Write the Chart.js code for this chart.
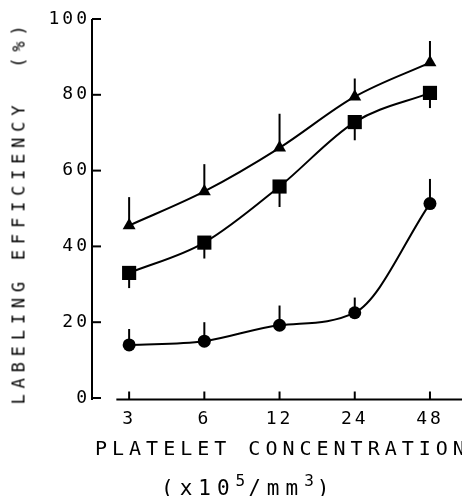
<!DOCTYPE html>
<html>
<head>
<meta charset="utf-8">
<script src="https://cdn.jsdelivr.net/npm/chart.js@4"></script>
<style>
  html, body { margin: 0; padding: 0; background: #fff; }
  #wrap { position: relative; width: 462px; height: 496px; }
  .lbl { position: absolute; font-family: 'DejaVu Sans Mono', monospace; color: #000; white-space: pre; line-height: 1; }
  #xTitle { left: 95px; top: 438px; font-size: 20px; letter-spacing: 5px; }
  #xUnit { left: 161px; top: 473px; font-size: 21px; letter-spacing: 6px; }
  #xUnit sup { font-size: 16px; vertical-align: 9px; letter-spacing: 3px; }
  #yTitle { left: 19px; top: 212px; font-size: 17px; letter-spacing: 5.8px; transform: translate(-50%, -50%) rotate(-90deg); }
</style>
</head>
<body>
<div id="wrap">
  <canvas id="chart" width="462" height="496"></canvas>
  <div class="lbl" id="yTitle">LABELING EFFICIENCY  (%)</div>
  <div class="lbl" id="xTitle">PLATELET CONCENTRATION</div>
  <div class="lbl" id="xUnit">(x10<sup>5</sup>/mm<sup>3</sup>)</div>
</div>
<script>
// ── data ──
const concLabels = ["3", "6", "12", "24", "48"];
const yTicks = [0, 20, 40, 60, 80, 100];

const triangle = [45.5, 54.5, 66, 79.5, 88.5];
const triangleErr = [7.5, 7.2, 9, 4.8, 5.7];     // drawn upward

const square = [33, 41, 55.8, 72.8, 80.5];
const squareErr = [4, 4.2, 5.4, 4.8, 4];          // drawn downward

const circle = [14, 15, 19.2, 22.5, 51.3];
const circleErr = [4.2, 5, 5.2, 4, 6.5];          // drawn upward

const toPoints = arr => arr.map((v, i) => ({ x: i, y: v }));

// ── error bars + hand-drawn axes (inward ticks, detached x axis) ──
const plotDecor = {
  id: "plotDecor",
  beforeDraw(chart) {
    chart.ctx.letterSpacing = "3px";
  },
  afterDatasetsDraw(chart) {
    const { ctx, scales: { x, y } } = chart;
    ctx.save();
    ctx.strokeStyle = "#000";
    ctx.lineWidth = 2;

    chart.data.datasets.forEach(ds => {
      ds.data.forEach((p, i) => {
        const px = x.getPixelForValue(p.x);
        ctx.beginPath();
        ctx.moveTo(px, y.getPixelForValue(p.y));
        ctx.lineTo(px, y.getPixelForValue(p.y + ds.errDir * ds.err[i]));
        ctx.stroke();
      });
    });

    // y axis
    const ax = chart.chartArea.left + 1;
    ctx.beginPath();
    ctx.moveTo(ax, y.getPixelForValue(100));
    ctx.lineTo(ax, y.getPixelForValue(0) + 2);
    ctx.stroke();
    yTicks.forEach(t => {
      const py = y.getPixelForValue(t);
      ctx.beginPath();
      ctx.moveTo(ax, py);
      ctx.lineTo(ax + 9, py);
      ctx.stroke();
    });

    // x axis
    const ay = y.getPixelForValue(0) + 1.5;
    ctx.beginPath();
    ctx.moveTo(x.getPixelForValue(-0.17), ay);
    ctx.lineTo(chart.width, ay);
    ctx.stroke();
    concLabels.forEach((_, i) => {
      const px = x.getPixelForValue(i);
      ctx.beginPath();
      ctx.moveTo(px, ay);
      ctx.lineTo(px, ay - 8);
      ctx.stroke();
    });
    ctx.restore();
  }
};

const seriesStyle = {
  borderColor: "#000",
  backgroundColor: "#000",
  pointBackgroundColor: "#000",
  pointBorderColor: "#000",
  pointBorderWidth: 0,
  borderWidth: 2,
  cubicInterpolationMode: "monotone",
  fill: false,
};

new Chart(document.getElementById("chart"), {
  type: "line",
  data: {
    datasets: [
      { ...seriesStyle, label: "triangle", data: toPoints(triangle), err: triangleErr, errDir: 1,
        pointStyle: "triangle", pointRadius: 7.5 },
      { ...seriesStyle, label: "square", data: toPoints(square), err: squareErr, errDir: -1,
        pointStyle: "rect", pointRadius: 10 },
      { ...seriesStyle, label: "circle", data: toPoints(circle), err: circleErr, errDir: 1,
        pointStyle: "circle", pointRadius: 6.5 },
    ]
  },
  options: {
    responsive: false,
    animation: false,
    layout: { padding: { top: 19, right: 0, left: 0, bottom: 0 } },
    plugins: { legend: { display: false }, tooltip: { enabled: false } },
    scales: {
      x: {
        type: "linear",
        min: -0.507,
        max: 4.293,
        grid: { display: false, drawTicks: false },
        border: { display: false },
        afterBuildTicks: s => { s.ticks = concLabels.map((_, i) => ({ value: i })); },
        afterFit: s => { s.height = 98; },
        ticks: {
          color: "#000",
          padding: 11,
          font: { family: "'DejaVu Sans Mono'", size: 18 },
          callback: v => concLabels[v],
        }
      },
      y: {
        min: 0,
        max: 100,
        grid: { display: false, drawTicks: false },
        border: { display: false },
        afterBuildTicks: s => { s.ticks = yTicks.map(v => ({ value: v })); },
        afterFit: s => { s.width = 91; },
        ticks: {
          color: "#000",
          padding: 1,
          font: { family: "'DejaVu Sans Mono'", size: 18 },
        }
      }
    }
  },
  plugins: [plotDecor]
});
</script>
</body>
</html>
